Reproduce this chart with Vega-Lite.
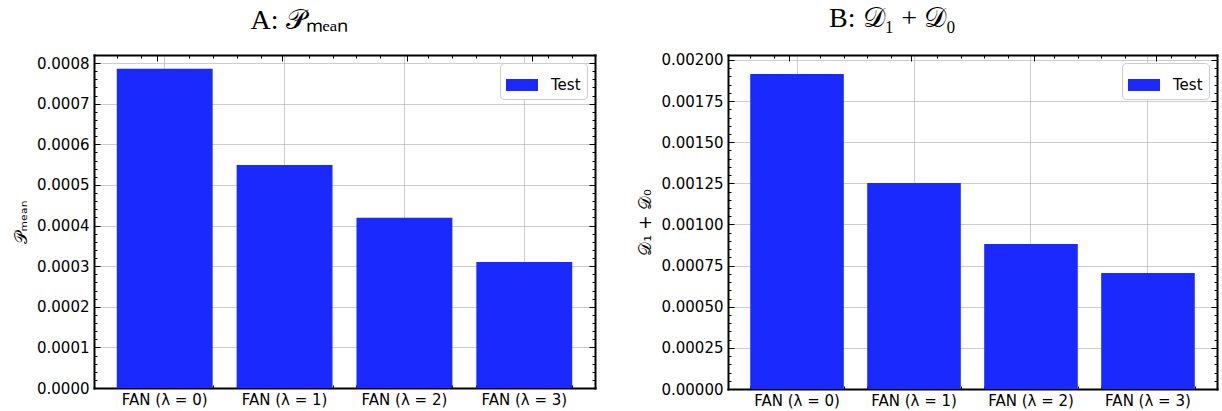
{
  "$schema": "https://vega.github.io/schema/vega-lite/v6.json",
  "background": "white",
  "padding": {"left": 12, "top": 4, "right": 4, "bottom": 2},
  "datasets": {
    "pmean": [
      {"model": "FAN (λ = 0)", "value": 0.000786},
      {"model": "FAN (λ = 1)", "value": 0.000549},
      {"model": "FAN (λ = 2)", "value": 0.000419},
      {"model": "FAN (λ = 3)", "value": 0.000310}
    ],
    "dsum": [
      {"model": "FAN (λ = 0)", "value": 0.001914},
      {"model": "FAN (λ = 1)", "value": 0.001252},
      {"model": "FAN (λ = 2)", "value": 0.000881},
      {"model": "FAN (λ = 3)", "value": 0.000705}
    ]
  },
  "config": {
    "view": {"stroke": null},
    "font": "DejaVu Sans",
    "axis": {
      "labelFont": "DejaVu Sans", "labelFontSize": 15, "labelColor": "black",
      "tickColor": "black", "tickWidth": 1,
      "domainColor": "black", "domainWidth": 2, "domainCap": "square",
      "gridColor": "#b0b0b0", "gridWidth": 0.8, "gridOpacity": 0.8,
      "titleFont": "DejaVu Sans", "titleFontSize": 17, "titleFontWeight": "normal", "titleColor": "black",
      "zindex": 1
    },
    "legend": {
      "orient": "top-right", "offset": 8, "padding": 6,
      "strokeColor": "#cccccc", "cornerRadius": 4, "fillColor": "white",
      "labelFont": "DejaVu Sans", "labelFontSize": 15, "labelColor": "black", "labelOffset": 13,
      "symbolType": "M-1,-0.375H1V0.375H-1Z", "symbolSize": 1024, "symbolStrokeWidth": 0, "symbolOpacity": 1
    },
    "title": {"font": "Liberation Serif", "fontSize": 28, "fontWeight": "normal", "color": "black"}
  },
  "spacing": 40,
  "resolve": {"scale": {"color": "independent"}, "legend": {"color": "independent"}},
  "hconcat": [
    {
      "width": 501, "height": 333,
      "title": {"text": "A: 𝒫ₘₑₐₙ", "offset": 20, "dx": -45},
      "data": {"name": "pmean"},
      "resolve": {"scale": {"x": "independent"}, "axis": {"x": "independent", "y": "independent"}},
      "layer": [
        {
          "mark": {"type": "bar"},
          "encoding": {
            "x": {"field": "model", "type": "nominal", "sort": null,
              "scale": {"paddingInner": 0.2, "paddingOuter": 0.19},
              "axis": {"orient": "bottom", "title": null, "labelAngle": 0, "tickSize": -6, "labelPadding": 10, "grid": true}},
            "y": {"field": "value", "type": "quantitative",
              "scale": {"domain": [0, 0.00082], "nice": false},
              "axis": {"orient": "left", "title": "𝒫ₘₑₐₙ", "format": ".4f", "tickSize": -6, "labelPadding": 11, "titlePadding": 6, "grid": true,
                "values": [0, 0.0001, 0.0002, 0.0003, 0.0004, 0.0005, 0.0006, 0.0007, 0.0008]}},
            "color": {"datum": "Test", "type": "nominal", "scale": {"range": ["#1a2aff"]}, "legend": {"title": null}}
          }
        },
        {
          "mark": {"type": "point", "opacity": 0},
          "encoding": {
            "x": {"field": "model", "type": "nominal", "sort": null,
              "scale": {"paddingInner": 0.2, "paddingOuter": 0.19},
              "axis": {"orient": "top", "title": null, "labels": false, "tickSize": -6, "grid": false}},
            "y": {"field": "value", "type": "quantitative",
              "scale": {"domain": [0, 0.00082], "nice": false},
              "axis": {"orient": "right", "title": null, "labels": false, "tickSize": -6, "grid": false,
                "values": [0, 0.0001, 0.0002, 0.0003, 0.0004, 0.0005, 0.0006, 0.0007, 0.0008]}}
          }
        },
        {
          "mark": {"type": "point", "opacity": 0},
          "encoding": {
            "x": {"datum": 0, "type": "quantitative",
              "scale": {"domain": [-0.59, 3.59], "nice": false, "zero": false},
              "axis": {"orient": "bottom", "title": null, "labels": false, "domain": false, "tickSize": -3, "grid": false,
                "values": [-0.4, -0.2, 0.2, 0.4, 0.6, 0.8, 1.2, 1.4, 1.6, 1.8, 2.2, 2.4, 2.6, 2.8, 3.2, 3.4]}},
            "y": {"field": "value", "type": "quantitative",
              "scale": {"domain": [0, 0.00082], "nice": false},
              "axis": {"orient": "left", "title": null, "labels": false, "domain": false, "tickSize": -3, "grid": false,
                "values": [0.00002, 0.00004, 0.00006, 0.00008, 0.00012, 0.00014, 0.00016, 0.00018, 0.00022, 0.00024, 0.00026, 0.00028, 0.00032, 0.00034, 0.00036, 0.00038, 0.00042, 0.00044, 0.00046, 0.00048, 0.00052, 0.00054, 0.00056, 0.00058, 0.00062, 0.00064, 0.00066, 0.00068, 0.00072, 0.00074, 0.00076, 0.00078]}}
          }
        },
        {
          "mark": {"type": "point", "opacity": 0},
          "encoding": {
            "x": {"datum": 0, "type": "quantitative",
              "scale": {"domain": [-0.59, 3.59], "nice": false, "zero": false},
              "axis": {"orient": "top", "title": null, "labels": false, "domain": false, "tickSize": -3, "grid": false,
                "values": [-0.4, -0.2, 0.2, 0.4, 0.6, 0.8, 1.2, 1.4, 1.6, 1.8, 2.2, 2.4, 2.6, 2.8, 3.2, 3.4]}},
            "y": {"field": "value", "type": "quantitative",
              "scale": {"domain": [0, 0.00082], "nice": false},
              "axis": {"orient": "right", "title": null, "labels": false, "domain": false, "tickSize": -3, "grid": false,
                "values": [0.00002, 0.00004, 0.00006, 0.00008, 0.00012, 0.00014, 0.00016, 0.00018, 0.00022, 0.00024, 0.00026, 0.00028, 0.00032, 0.00034, 0.00036, 0.00038, 0.00042, 0.00044, 0.00046, 0.00048, 0.00052, 0.00054, 0.00056, 0.00058, 0.00062, 0.00064, 0.00066, 0.00068, 0.00072, 0.00074, 0.00076, 0.00078]}}
          }
        }
      ]
    },
    {
      "width": 489, "height": 334,
      "title": {"text": "B: 𝒟₁ + 𝒟₀", "offset": 20, "dx": -80},
      "data": {"name": "dsum"},
      "resolve": {"scale": {"x": "independent"}, "axis": {"x": "independent", "y": "independent"}},
      "layer": [
        {
          "mark": {"type": "bar"},
          "encoding": {
            "x": {"field": "model", "type": "nominal", "sort": null,
              "scale": {"paddingInner": 0.2, "paddingOuter": 0.19},
              "axis": {"orient": "bottom", "title": null, "labelAngle": 0, "tickSize": -6, "labelPadding": 10, "grid": true}},
            "y": {"field": "value", "type": "quantitative",
              "scale": {"domain": [0, 0.00203], "nice": false},
              "axis": {"orient": "left", "title": "𝒟₁ + 𝒟₀", "format": ".5f", "tickSize": -6, "labelPadding": 11, "titlePadding": 6, "grid": true,
                "values": [0, 0.00025, 0.0005, 0.00075, 0.001, 0.00125, 0.0015, 0.00175, 0.002]}},
            "color": {"datum": "Test", "type": "nominal", "scale": {"range": ["#1a2aff"]}, "legend": {"title": null}}
          }
        },
        {
          "mark": {"type": "point", "opacity": 0},
          "encoding": {
            "x": {"field": "model", "type": "nominal", "sort": null,
              "scale": {"paddingInner": 0.2, "paddingOuter": 0.19},
              "axis": {"orient": "top", "title": null, "labels": false, "tickSize": -6, "grid": false}},
            "y": {"field": "value", "type": "quantitative",
              "scale": {"domain": [0, 0.00203], "nice": false},
              "axis": {"orient": "right", "title": null, "labels": false, "tickSize": -6, "grid": false,
                "values": [0, 0.00025, 0.0005, 0.00075, 0.001, 0.00125, 0.0015, 0.00175, 0.002]}}
          }
        },
        {
          "mark": {"type": "point", "opacity": 0},
          "encoding": {
            "x": {"datum": 0, "type": "quantitative",
              "scale": {"domain": [-0.59, 3.59], "nice": false, "zero": false},
              "axis": {"orient": "bottom", "title": null, "labels": false, "domain": false, "tickSize": -3, "grid": false,
                "values": [-0.4, -0.2, 0.2, 0.4, 0.6, 0.8, 1.2, 1.4, 1.6, 1.8, 2.2, 2.4, 2.6, 2.8, 3.2, 3.4]}},
            "y": {"field": "value", "type": "quantitative",
              "scale": {"domain": [0, 0.00203], "nice": false},
              "axis": {"orient": "left", "title": null, "labels": false, "domain": false, "tickSize": -3, "grid": false,
                "values": [0.00005, 0.0001, 0.00015, 0.0002, 0.0003, 0.00035, 0.0004, 0.00045, 0.00055, 0.0006, 0.00065, 0.0007, 0.0008, 0.00085, 0.0009, 0.00095, 0.00105, 0.0011, 0.00115, 0.0012, 0.0013, 0.00135, 0.0014, 0.00145, 0.00155, 0.0016, 0.00165, 0.0017, 0.0018, 0.00185, 0.0019, 0.00195]}}
          }
        },
        {
          "mark": {"type": "point", "opacity": 0},
          "encoding": {
            "x": {"datum": 0, "type": "quantitative",
              "scale": {"domain": [-0.59, 3.59], "nice": false, "zero": false},
              "axis": {"orient": "top", "title": null, "labels": false, "domain": false, "tickSize": -3, "grid": false,
                "values": [-0.4, -0.2, 0.2, 0.4, 0.6, 0.8, 1.2, 1.4, 1.6, 1.8, 2.2, 2.4, 2.6, 2.8, 3.2, 3.4]}},
            "y": {"field": "value", "type": "quantitative",
              "scale": {"domain": [0, 0.00203], "nice": false},
              "axis": {"orient": "right", "title": null, "labels": false, "domain": false, "tickSize": -3, "grid": false,
                "values": [0.00005, 0.0001, 0.00015, 0.0002, 0.0003, 0.00035, 0.0004, 0.00045, 0.00055, 0.0006, 0.00065, 0.0007, 0.0008, 0.00085, 0.0009, 0.00095, 0.00105, 0.0011, 0.00115, 0.0012, 0.0013, 0.00135, 0.0014, 0.00145, 0.00155, 0.0016, 0.00165, 0.0017, 0.0018, 0.00185, 0.0019, 0.00195]}}
          }
        }
      ]
    }
  ]
}
